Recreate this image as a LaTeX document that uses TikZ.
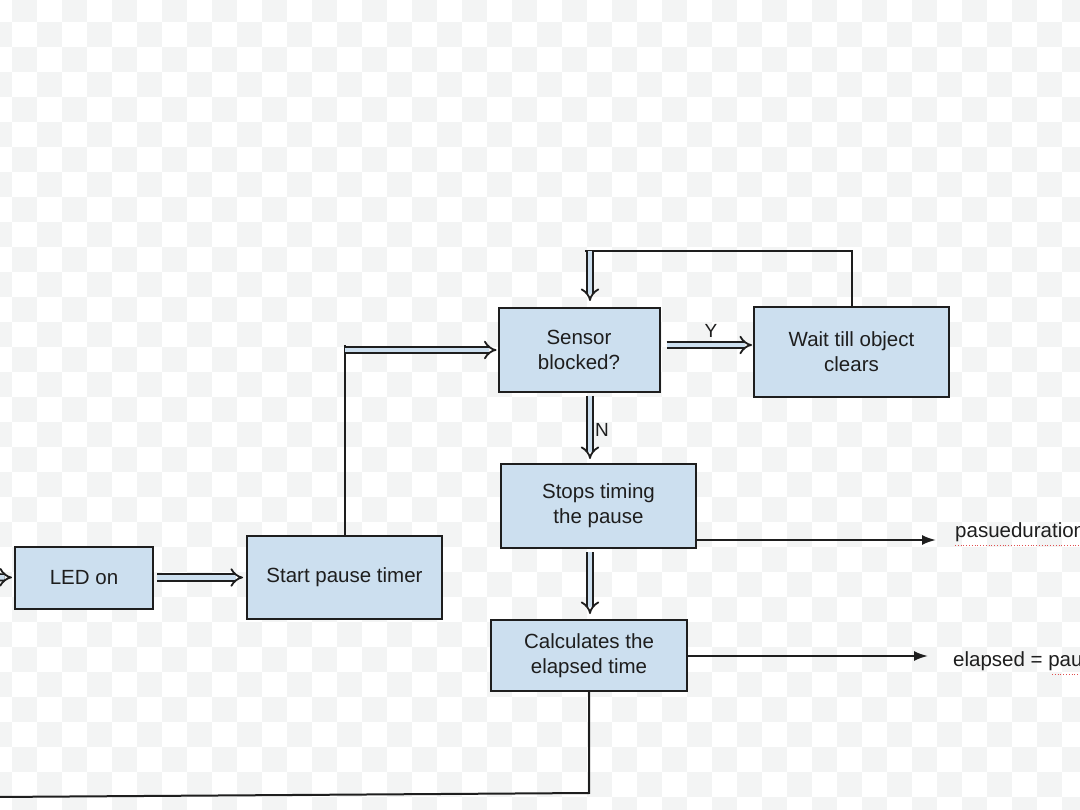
\documentclass[tikz,border=0pt]{standalone}
\usepackage{fontspec}
\setmainfont{Liberation Sans}
\usetikzlibrary{arrows.meta}
\definecolor{boxfill}{HTML}{CCDFEF}
\definecolor{chk}{HTML}{F3F4F4}
\definecolor{ink}{HTML}{1E1E1E}
\definecolor{squig}{HTML}{E05050}
\begin{document}
\begin{tikzpicture}[x=1pt,y=-1pt,
  box/.style={draw=ink, line width=2pt, fill=boxfill, align=center,
    font=\fontsize{20.5}{25}\selectfont, text=ink, inner sep=0pt},
  dbl/.style={draw=ink, line width=1.8pt, double=boxfill, double distance=4.5pt, -{Implies}},
  single/.style={draw=ink, line width=2pt},
  outarrow/.style={single, -{Latex[length=14pt,width=10pt]}},
  lbl/.style={font=\fontsize{20.5}{24}\selectfont, text=ink, inner sep=0pt, anchor=west},
  yn/.style={font=\fontsize{19}{22}\selectfont, text=ink, inner sep=0pt}]
\useasboundingbox (0,0) rectangle (1080,810);
\clip (0,0) rectangle (1080,810);
\fill[white] (0,0) rectangle (1080,810);
\foreach \i in {0,...,44}{
  \foreach \j in {0,...,33}{
    \pgfmathtruncatemacro\chkp{mod(\i+\j,2)}
    \ifnum\chkp=1
      \fill[chk] (-13+25*\i,-3+25*\j) rectangle (12+25*\i,22+25*\j);
    \fi
  }
}
% nodes
\node[box, minimum width=138pt, minimum height=62pt] (led) at (84,577.5) {LED on};
\node[box, minimum width=195pt, minimum height=83pt] (start) at (344.5,577.5) {Start pause timer};
\node[box, minimum width=161pt, minimum height=84pt] (sensor) at (579,350) {Sensor\\blocked?};
\node[box, minimum width=195pt, minimum height=90pt] (wait) at (851.5,352) {Wait till object\\clears};
\node[box, minimum width=195pt, minimum height=84pt] (stops) at (598.5,506) {Stops timing\\the pause};
\node[box, minimum width=196pt, minimum height=71pt] (calc) at (589,655.5) {Calculates the\\elapsed time};
% coordinates
\coordinate (in) at (-20,577);
\coordinate (c1) at (344.5,345);
\coordinate (c2) at (344.5,350);
\coordinate (f1) at (851.5,251);
\coordinate (f0) at (585,251);
\coordinate (f2) at (590,251);
\coordinate (n1) at (590,391);
\coordinate (s1) at (590,548);
\coordinate (p1) at (936,540);
\coordinate (p2) at (928,656);
\coordinate (b1) at (589,793);
\coordinate (b2) at (-5,797);
% connectors
\draw[dbl, shorten >=2pt] (in) -- (led.west);
\draw[dbl, shorten <=3pt, shorten >=3pt] (led.east) -- (start.west);
\draw[single] (start.north) -- (c1);
\draw[dbl, shorten >=1pt] (c2) -- (sensor.west |- c2);
\draw[dbl, shorten <=6pt, shorten >=1pt] (sensor.east |- 0,345) -- (wait.west |- 0,345);
\draw[single] (wait.north) -- (f1) -- (f0);
\draw[dbl, shorten >=6pt] (f2) -- (f2 |- sensor.north);
\draw[dbl, shorten <=5pt, shorten >=4pt] (n1) -- (n1 |- stops.north);
\draw[dbl, shorten <=4pt, shorten >=5pt] (s1) -- (s1 |- calc.north);
\draw[outarrow] (stops.east |- p1) -- (p1);
\draw[outarrow] (calc.east |- p2) -- (p2);
\draw[single] (calc.south) -- (b1) -- (b2);
% labels
\node[yn] (ylab) at (711,331) {Y};
\node[yn] (nlab) at (602,430) {N};
\node[lbl] (pd) at (955,532) {pasueduration};
\node[lbl] (el) at (953,661) {elapsed = pau};
\draw[squig, line width=0.8pt, dotted] (955,545) -- (1080,545);
\draw[squig, line width=0.8pt, dotted] (1052,674) -- (1080,674);
\end{tikzpicture}
\end{document}
